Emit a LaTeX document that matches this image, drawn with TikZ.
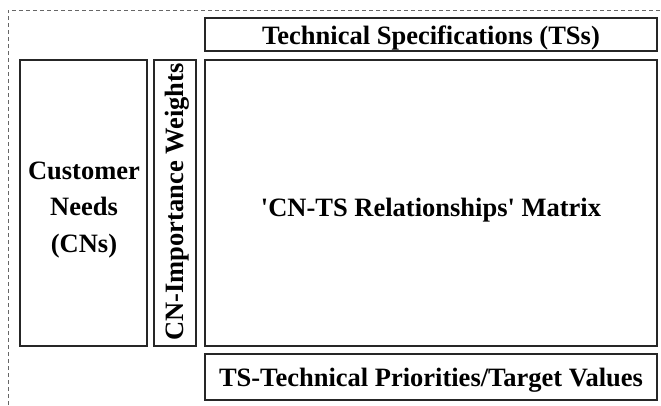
\documentclass[tikz,border=0pt]{standalone}
\usepackage{fontspec}
\setmainfont{Liberation Serif}
\begin{document}
\begin{tikzpicture}[x=1pt,y=-1pt,
  box/.style={draw=black!85,line width=1.3pt,inner sep=0pt},
  lbl/.style={font=\fontsize{26.5}{36.5}\selectfont\bfseries,align=center}]
\useasboundingbox (0,0) rectangle (661,405);
\draw[dashed,line width=0.5pt,black!60,dash pattern=on 4pt off 3pt] (8,405) -- (8,10) -- (661,10);
\draw[box] (205,18) rectangle (657,51);
\node[lbl] (ts) at (431,37.5) {Technical Specifications (TSs)};
\draw[box] (20,60) rectangle (147,346);
\node[lbl] (cn) at (84,210) {Customer\\Needs\\(CNs)};
\draw[box] (154,60) rectangle (196,346);
\node[lbl,rotate=90] (w) at (177,202) {CN-Importance Weights};
\draw[box] (205,60) rectangle (657,346);
\node[lbl] (m) at (431,210) {\textquotesingle CN-TS Relationships\textquotesingle\ Matrix};
\draw[box] (205,354) rectangle (657,400);
\node[lbl] (tp) at (431,380.5) {TS-Technical Priorities/Target Values};
\end{tikzpicture}
\end{document}
